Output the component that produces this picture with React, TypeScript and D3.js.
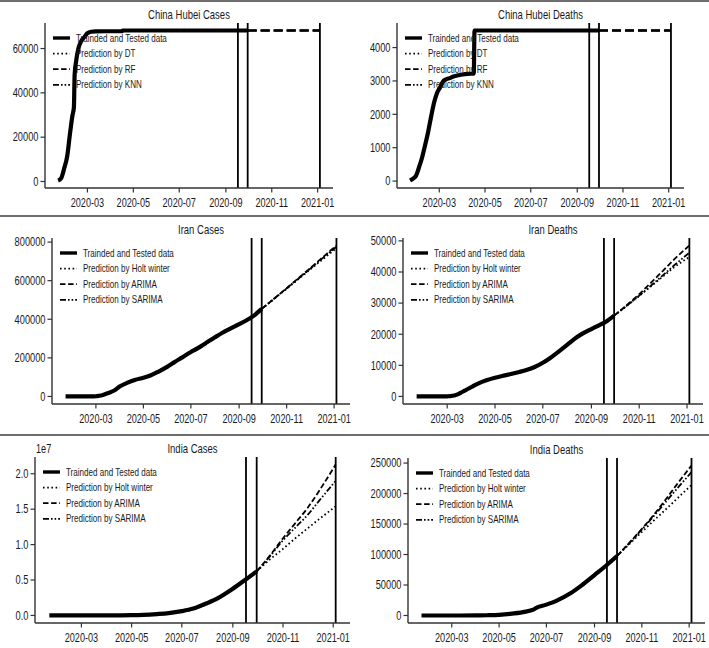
import React from 'react';
import * as d3 from 'd3';

// ---------------- DATA ----------------
const xTickDates = ['2020-03-01', '2020-05-01', '2020-07-01', '2020-09-01', '2020-11-01', '2021-01-01'];
const vlineDates = ['2020-09-17', '2020-09-30', '2021-01-04'];
const predictionDates = ['2020-09-30', '2020-10-15', '2020-11-01', '2020-11-15', '2020-12-01', '2020-12-15', '2021-01-04'];

const chinaCaseDates = ['2020-01-22', '2020-01-26', '2020-01-30', '2020-02-03', '2020-02-07', '2020-02-10', '2020-02-12', '2020-02-13', '2020-02-15', '2020-02-18', '2020-02-22', '2020-02-26', '2020-03-01', '2020-03-06', '2020-03-12', '2020-03-25', '2020-04-16', '2020-04-17', '2020-06-01', '2020-09-30'];
const chinaCaseValues = [444, 1423, 5806, 11177, 22112, 29631, 33366, 48206, 54406, 59989, 63454, 65187, 66907, 67592, 67781, 67801, 67803, 68128, 68134, 68139];
const chinaCasePredDT = [68139, 68139, 68139, 68139, 68139, 68139, 68139];
const chinaCasePredRF = [68139, 68139, 68139, 68139, 68139, 68139, 68139];
const chinaCasePredKNN = [68139, 68139, 68139, 68139, 68139, 68139, 68139];

const chinaDeathDates = ['2020-01-22', '2020-01-26', '2020-01-30', '2020-02-03', '2020-02-07', '2020-02-11', '2020-02-15', '2020-02-19', '2020-02-23', '2020-02-27', '2020-03-02', '2020-03-06', '2020-03-10', '2020-03-15', '2020-03-20', '2020-03-25', '2020-04-01', '2020-04-08', '2020-04-16', '2020-04-17', '2020-06-01', '2020-09-30'];
const chinaDeathValues = [17, 76, 162, 414, 699, 1068, 1457, 1921, 2346, 2641, 2803, 2986, 3046, 3085, 3132, 3163, 3193, 3212, 3222, 4512, 4512, 4512];
const chinaDeathPredDT = [4512, 4512, 4512, 4512, 4512, 4512, 4512];
const chinaDeathPredRF = [4512, 4512, 4512, 4512, 4512, 4512, 4512];
const chinaDeathPredKNN = [4512, 4512, 4512, 4512, 4512, 4512, 4512];

const iranDates = ['2020-01-22', '2020-02-18', '2020-02-25', '2020-03-01', '2020-03-05', '2020-03-10', '2020-03-15', '2020-03-20', '2020-03-25', '2020-04-01', '2020-04-10', '2020-04-20', '2020-05-01', '2020-05-10', '2020-05-20', '2020-06-01', '2020-06-10', '2020-06-20', '2020-07-01', '2020-07-10', '2020-07-20', '2020-08-01', '2020-08-10', '2020-08-20', '2020-09-01', '2020-09-10', '2020-09-20', '2020-09-30'];
const iranCaseValues = [0, 0, 95, 978, 3513, 8042, 14938, 22644, 32017, 52593, 70192, 85505, 96640, 108603, 127949, 154445, 177938, 202584, 230211, 250458, 276202, 306752, 328844, 350279, 375212, 393425, 419043, 453637];
const iranDeathValues = [0, 0, 16, 54, 107, 291, 724, 1433, 2077, 3036, 4232, 5209, 6028, 6589, 7119, 7878, 8506, 9392, 10817, 12305, 14188, 16569, 18427, 20125, 21672, 22798, 24118, 25986];
const iranCasePredHolt = [453637, 503000, 558000, 604000, 657000, 703000, 768000];
const iranCasePredARIMA = [453637, 504000, 561000, 609000, 664000, 713000, 782000];
const iranCasePredSARIMA = [453637, 503500, 560000, 607000, 661000, 709000, 776000];
const iranDeathPredHolt = [25986, 28900, 32300, 35200, 38500, 41400, 44800];
const iranDeathPredARIMA = [25986, 29100, 32900, 36300, 40300, 43900, 48500];
const iranDeathPredSARIMA = [25986, 28950, 32400, 35400, 38900, 42000, 46200];

const indiaCaseDates = ['2020-01-22', '2020-03-01', '2020-03-15', '2020-04-01', '2020-04-15', '2020-05-01', '2020-05-15', '2020-06-01', '2020-06-15', '2020-07-01', '2020-07-15', '2020-08-01', '2020-08-15', '2020-09-01', '2020-09-15', '2020-09-30'];
const indiaCaseValues = [0, 3, 113, 1998, 12322, 35043, 81997, 198370, 332424, 604641, 968857, 1750723, 2526192, 3769523, 4930236, 6225763];
const indiaCasePredHolt = [6225763, 7800000, 9400000, 10800000, 12300000, 13600000, 15400000];
const indiaCasePredARIMA = [6225763, 8300000, 10900000, 12900000, 15200000, 17600000, 21300000];
const indiaCasePredSARIMA = [6225763, 8200000, 10600000, 12300000, 14200000, 16200000, 19000000];

const indiaDeathDates = ['2020-01-22', '2020-03-11', '2020-04-01', '2020-04-15', '2020-05-01', '2020-05-15', '2020-06-01', '2020-06-15', '2020-06-17', '2020-07-01', '2020-07-15', '2020-08-01', '2020-08-15', '2020-09-01', '2020-09-15', '2020-09-30'];
const indiaDeathValues = [0, 0, 58, 405, 1152, 2649, 5608, 9900, 11903, 17834, 24914, 36511, 49036, 66333, 80776, 97497];
const indiaDeathPredHolt = [97497, 116000, 137000, 154000, 173000, 190000, 214000];
const indiaDeathPredARIMA = [97497, 118000, 142000, 163000, 189000, 213000, 246000];
const indiaDeathPredSARIMA = [97497, 117500, 141000, 161000, 185000, 206000, 235000];

const mlLabels = ['Trainded and Tested data', 'Prediction by DT', 'Prediction by RF', 'Prediction by KNN'];
const tsLabels = ['Trainded and Tested data', 'Prediction by Holt winter', 'Prediction by ARIMA', 'Prediction by SARIMA'];

const chinaCaseTicks = [0, 20000, 40000, 60000];
const chinaDeathTicks = [0, 1000, 2000, 3000, 4000];
const iranCaseTicks = [0, 200000, 400000, 600000, 800000];
const iranDeathTicks = [0, 10000, 20000, 30000, 40000, 50000];
const indiaCaseTicks = [0, 5000000, 10000000, 15000000, 20000000];
const indiaDeathTicks = [0, 50000, 100000, 150000, 200000, 250000];

// ---------------- STYLE / LAYOUT ----------------
const FONT = '"Liberation Sans", Arial, Helvetica, sans-serif';
const SX = 0.76;
const INK = '#1a1a1a';
const parse = d3.timeParse('%Y-%m-%d');
const fmtMonth = d3.timeFormat('%Y-%m');

const DOTTED = '1.6,2.6';
const DASHED = '5.5,2.6';
const DASHDOTDOT = '6,2,1.6,2,1.6,2';
const CHINA_DASH = '9,4';

type Box = { l: number; r: number; t: number; b: number };

type PanelCfg = {
  title: string;
  box: Box;
  dates: string[];
  values: number[];
  preds: number[][];
  predDash: string[];
  legendDash: string[];
  labels: string[];
  yTicks: number[];
  yFmt: (v: number) => string;
  offsetText?: string;
};

function T({ x, y, anchor = 'start', size = 12, children }: any) {
  return (
    <text
      transform={`translate(${x},${y}) scale(${SX},1)`}
      textAnchor={anchor}
      fontSize={size}
      fontFamily={FONT}
      fill={INK}
    >
      {children}
    </text>
  );
}

function Panel({ cfg }: { cfg: PanelCfg }) {
  const { box } = cfg;
  const obs = cfg.dates.map((d, i) => [parse(d) as Date, cfg.values[i]] as [Date, number]);
  const predSeries = cfg.preds.map((p) => predictionDates.map((d, i) => [parse(d) as Date, p[i]] as [Date, number]));
  const allPts = obs.concat(...predSeries);
  const [t0, t1] = d3.extent(allPts, (d) => d[0].getTime()) as [number, number];
  const tp = (t1 - t0) * 0.05;
  const x = d3.scaleTime().domain([new Date(t0 - tp), new Date(t1 + tp)]).range([box.l, box.r]);
  const [v0, v1] = d3.extent(allPts, (d) => d[1]) as [number, number];
  const vp = (v1 - v0) * 0.05;
  const y = d3.scaleLinear().domain([v0 - vp, v1 + vp]).range([box.b, box.t]);
  const line = d3
    .line<[Date, number]>()
    .x((d) => x(d[0]))
    .y((d) => y(d[1]))
    .curve(d3.curveMonotoneX);

  const legX = box.l + 8;
  const legY = box.t + 15;
  const rowH = 15.6;

  return (
    <g>
      <T x={(box.l + box.r) / 2} y={box.t - 4.5} anchor="middle" size={12.5}>
        {cfg.title}
      </T>
      {cfg.offsetText && (
        <T x={box.l + 1} y={box.t - 4} size={12}>
          {cfg.offsetText}
        </T>
      )}
      {/* data */}
      <path d={line(obs) || ''} fill="none" stroke="#000" strokeWidth={4.2} strokeLinejoin="round" />
      {predSeries.map((s, i) => (
        <path
          key={i}
          d={line(s) || ''}
          fill="none"
          stroke="#000"
          strokeWidth={1.8}
          strokeDasharray={cfg.predDash[i]}
        />
      ))}
      {/* vertical lines */}
      {vlineDates.map((d) => {
        const vx = x(parse(d) as Date);
        return <line key={d} x1={vx} x2={vx} y1={box.t} y2={box.b} stroke="#000" strokeWidth={1.8} />;
      })}
      {/* axes */}
      <line x1={box.l} x2={box.l} y1={box.t} y2={box.b} stroke="#333" strokeWidth={1.4} />
      <line x1={box.l} x2={box.r} y1={box.b} y2={box.b} stroke="#333" strokeWidth={1.4} />
      {cfg.yTicks.map((v) => (
        <g key={'y' + v}>
          <line x1={box.l - 4.5} x2={box.l} y1={y(v)} y2={y(v)} stroke="#333" strokeWidth={1.2} />
          <T x={box.l - 6.5} y={y(v) + 4.3} anchor="end" size={12.2}>
            {cfg.yFmt(v)}
          </T>
        </g>
      ))}
      {xTickDates.map((d) => {
        const tx = x(parse(d) as Date);
        return (
          <g key={d}>
            <line x1={tx} x2={tx} y1={box.b} y2={box.b + 4.5} stroke="#333" strokeWidth={1.2} />
            <T x={tx} y={box.b + 19} anchor="middle" size={12}>
              {fmtMonth(parse(d) as Date)}
            </T>
          </g>
        );
      })}
      {/* legend */}
      {cfg.labels.map((lab, i) => {
        const ly = legY + i * rowH;
        return (
          <g key={lab}>
            <line
              x1={legX}
              x2={legX + 17}
              y1={ly}
              y2={ly}
              stroke="#000"
              strokeWidth={i === 0 ? 3.4 : 1.8}
              strokeDasharray={i === 0 ? undefined : cfg.legendDash[i - 1]}
            />
            <T x={legX + 23} y={ly + 3.6} size={10.6}>
              {lab}
            </T>
          </g>
        );
      })}
    </g>
  );
}

const plain = (v: number) => String(v);
const e7 = (v: number) => (v / 1e7).toFixed(1);

const panels: PanelCfg[] = [
  {
    title: 'China Hubei Cases',
    box: { l: 45, r: 333, t: 23, b: 188 },
    dates: chinaCaseDates,
    values: chinaCaseValues,
    preds: [chinaCasePredDT, chinaCasePredRF, chinaCasePredKNN],
    predDash: [CHINA_DASH, CHINA_DASH, CHINA_DASH],
    legendDash: [DOTTED, DASHED, DASHDOTDOT],
    labels: mlLabels,
    yTicks: chinaCaseTicks,
    yFmt: plain,
  },
  {
    title: 'China Hubei Deaths',
    box: { l: 397, r: 684, t: 23, b: 188 },
    dates: chinaDeathDates,
    values: chinaDeathValues,
    preds: [chinaDeathPredDT, chinaDeathPredRF, chinaDeathPredKNN],
    predDash: [CHINA_DASH, CHINA_DASH, CHINA_DASH],
    legendDash: [DOTTED, DASHED, DASHDOTDOT],
    labels: mlLabels,
    yTicks: chinaDeathTicks,
    yFmt: plain,
  },
  {
    title: 'Iran Cases',
    box: { l: 52, r: 350, t: 238, b: 404 },
    dates: iranDates,
    values: iranCaseValues,
    preds: [iranCasePredHolt, iranCasePredARIMA, iranCasePredSARIMA],
    predDash: [DOTTED, DASHED, DASHDOTDOT],
    legendDash: [DOTTED, DASHED, DASHDOTDOT],
    labels: tsLabels,
    yTicks: iranCaseTicks,
    yFmt: plain,
  },
  {
    title: 'Iran Deaths',
    box: { l: 403, r: 703, t: 238, b: 404 },
    dates: iranDates,
    values: iranDeathValues,
    preds: [iranDeathPredHolt, iranDeathPredARIMA, iranDeathPredSARIMA],
    predDash: [DOTTED, DASHED, DASHDOTDOT],
    legendDash: [DOTTED, DASHED, DASHDOTDOT],
    labels: tsLabels,
    yTicks: iranDeathTicks,
    yFmt: plain,
  },
  {
    title: 'India Cases',
    box: { l: 35, r: 350, t: 457, b: 623 },
    dates: indiaCaseDates,
    values: indiaCaseValues,
    preds: [indiaCasePredHolt, indiaCasePredARIMA, indiaCasePredSARIMA],
    predDash: [DOTTED, DASHED, DASHDOTDOT],
    legendDash: [DOTTED, DASHED, DASHDOTDOT],
    labels: tsLabels,
    yTicks: indiaCaseTicks,
    yFmt: e7,
    offsetText: '1e7',
  },
  {
    title: 'India Deaths',
    box: { l: 408, r: 705, t: 458, b: 623 },
    dates: indiaDeathDates,
    values: indiaDeathValues,
    preds: [indiaDeathPredHolt, indiaDeathPredARIMA, indiaDeathPredSARIMA],
    predDash: [DOTTED, DASHED, DASHDOTDOT],
    legendDash: [DOTTED, DASHED, DASHDOTDOT],
    labels: tsLabels,
    yTicks: indiaDeathTicks,
    yFmt: plain,
  },
];

const separatorYs = [1, 216, 435];

export default function App() {
  return (
    <svg
      width={709}
      height={648}
      style={{ position: 'absolute', left: 0, top: 0, display: 'block', background: '#fff' }}
    >
      <rect x={0} y={0} width={709} height={648} fill="#fff" />
      {separatorYs.map((sy) => (
        <line key={sy} x1={0} x2={709} y1={sy} y2={sy} stroke="#6e6e6e" strokeWidth={2} />
      ))}
      {panels.map((p) => (
        <Panel key={p.title} cfg={p} />
      ))}
    </svg>
  );
}
